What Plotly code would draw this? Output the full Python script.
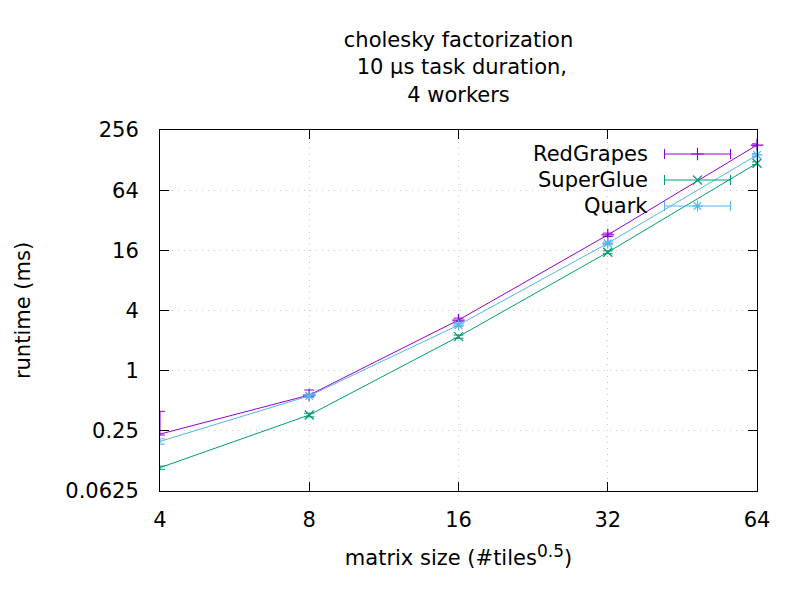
import plotly.graph_objects as go

# ---- data ----
matrix_size = [4, 8, 16, 32, 64]
redgrapes = [0.232, 0.57, 3.21, 22.8, 181]
redgrapes_err_plus = [0.16, 0.07, 0.15, 1.0, 5]
redgrapes_err_minus = [0.005, 0.02, 0.10, 0.8, 4]
superglue = [0.107, 0.36, 2.19, 15.3, 119]
superglue_err = [0.004, 0.015, 0.08, 0.5, 4]
quark = [0.196, 0.56, 2.86, 18.8, 144]
quark_err = [0.012, 0.02, 0.10, 0.6, 5]

x_ticks = [4, 8, 16, 32, 64]
x_ticktext = ["4", "8", "16", "32", "64"]
y_ticks = [0.0625, 0.25, 1, 4, 16, 64, 256]
y_ticktext = ["0.0625", "0.25", "1", "4", "16", "64", "256"]

series_names = ["RedGrapes", "SuperGlue", "Quark"]
colors = ["#9400d3", "#009e73", "#56b4e9"]
symbols = ["cross-thin", "x-thin", "asterisk-open"]

FONT = "DejaVu Sans"
FS = 21

fig = go.Figure()

def add_series(name, y, eplus, eminus, color, symbol):
    fig.add_trace(go.Scatter(
        x=matrix_size, y=y, name=name, mode="lines+markers",
        line=dict(color=color, width=1),
        marker=dict(symbol=symbol, size=9, color=color,
                    line=dict(color=color, width=1.3)),
        error_y=dict(type="data", symmetric=False, array=eplus, arrayminus=eminus,
                     color=color, thickness=1, width=5),
        cliponaxis=False, showlegend=False,
    ))

add_series(series_names[0], redgrapes, redgrapes_err_plus, redgrapes_err_minus, colors[0], symbols[0])
add_series(series_names[1], superglue, superglue_err, superglue_err, colors[1], symbols[1])
add_series(series_names[2], quark, quark_err, quark_err, colors[2], symbols[2])

# ---- gnuplot-style key (text left, sample right) on an overlay pixel axis ----
key_rows = [154, 180, 206]
key_x_center = 697.5
key_half = 33
for name, color, symbol, yrow in zip(series_names, colors, symbols, key_rows):
    fig.add_trace(go.Scatter(
        x=[key_x_center], y=[yrow], xaxis="x2", yaxis="y2", mode="markers",
        marker=dict(symbol=symbol, size=9, color=color, line=dict(color=color, width=1.2)),
        error_x=dict(type="data", array=[key_half], color=color, thickness=1, width=5),
        showlegend=False, hoverinfo="skip", cliponaxis=False,
    ))
    fig.add_annotation(x=650, y=yrow, xref="x2", yref="y2", text=name,
                       showarrow=False, xanchor="right", yanchor="middle",
                       font=dict(family=FONT, size=FS, color="black"))

axis_common = dict(
    showline=True, linecolor="black", linewidth=1, mirror="ticks",
    ticks="inside", ticklen=9, tickcolor="black", tickwidth=1,
    showgrid=True, gridcolor="#c8c8c8", griddash="1px,5px", gridwidth=1,
    zeroline=False, tickfont=dict(family=FONT, size=FS, color="black"),
)

fig.update_layout(
    width=800, height=600,
    margin=dict(l=152, r=51, t=122, b=117),
    paper_bgcolor="white", plot_bgcolor="white",
    font=dict(family=FONT, size=FS, color="black"),
    title=dict(text="cholesky factorization<br> 10 µs task duration,<br>4 workers",
               x=0.5, xanchor="center", xref="paper",
               y=0.935, yanchor="top", yref="container",
               font=dict(family=FONT, size=FS, color="black")),
    xaxis=dict(type="log", range=[0.60206, 1.80618], tickvals=x_ticks, ticktext=x_ticktext,
               title=dict(text="matrix size (#tiles<sup><span style='font-size:17px'>0.5</span></sup>)",
                          standoff=19, font=dict(family=FONT, size=FS)),
               ticklabelstandoff=10, **axis_common),
    yaxis=dict(type="log", range=[-1.20412, 2.40824], tickvals=y_ticks, ticktext=y_ticktext,
               title=dict(text="runtime (ms)", standoff=28, font=dict(family=FONT, size=FS)),
               ticklabelstandoff=16, **axis_common),
    xaxis2=dict(overlaying="x", range=[160, 757], visible=False, fixedrange=True),
    yaxis2=dict(overlaying="y", range=[491, 130], visible=False, fixedrange=True),
)

fig.write_html("out.html")
